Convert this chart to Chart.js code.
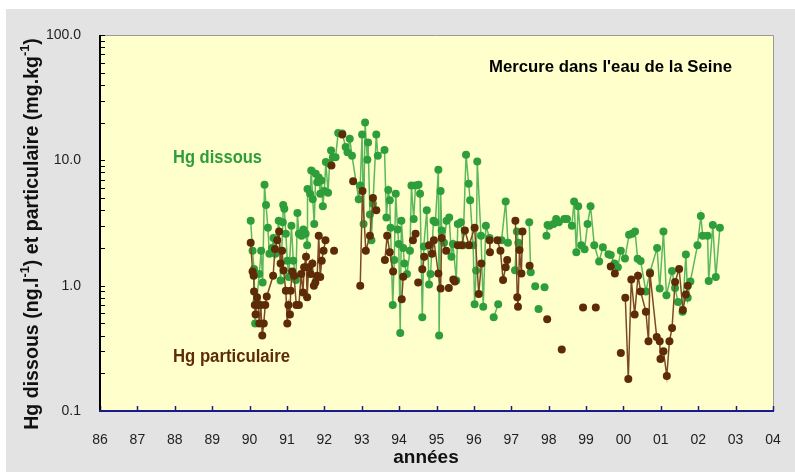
<!DOCTYPE html>
<html>
<head>
<meta charset="utf-8">
<script src="https://cdn.jsdelivr.net/npm/chart.js@4.4.1/dist/chart.umd.min.js"></script>
<style>
  html, body { margin: 0; padding: 0; background: #fff; }
  canvas { display: block; }
</style>
</head>
<body>
<canvas id="hgChart" width="795" height="472"></canvas>
<script>
// Hg dissous (ng/l) – null = coupure de la courbe
const dissousYears = [
  1990.03, 1990.08, 1990.12, 1990.15, 1990.19, 1990.26, 1990.31, 1990.35, 1990.40, 1990.44,
  1990.49, 1990.53, 1990.60, 1990.64, 1990.69, 1990.78, 1990.83, 1990.89, 1990.90, 1990.93,
  1990.97, 1991.01, 1991.05, 1991.12, 1991.17, 1991.24, 1991.28, 1991.32, 1991.39, 1991.44,
  1991.50, 1991.54, 1991.55, 1991.62, 1991.65, 1991.69, 1991.73, 1991.77, 1991.81, 1991.85,
  1991.89, 1991.92, 1991.96, 1992.00, 1992.04, 1992.10, 1992.14, 1992.18, 1992.23, 1992.30,
  1992.37, 1992.48, 1992.57, 1992.62, 1992.68, 1992.74, 1992.92, 1992.96, 1993.01, 1993.05,
  1993.09, 1993.15, 1993.17, 1993.22, 1993.26, 1993.30, 1993.39, 1993.43, 1993.61, 1993.66,
  1993.71, 1993.75, 1993.77, 1993.83, 1993.87, 1993.91, 1993.96, 1993.99, 1994.03, 1994.06,
  1994.11, 1994.14, 1994.21, 1994.29, 1994.33, 1994.39, 1994.44, 1994.52, 1994.56, 1994.62,
  1994.66, 1994.74, 1994.80, 1994.84, 1994.92, 1994.97, 1995.05, 1995.07, 1995.11, 1995.14,
  1995.20, 1995.27, 1995.34, 1995.40, 1995.44, 1995.53, 1995.57, 1995.65, 1995.71, 1995.79,
  1995.86, 1995.90, 1995.98, 1996.02, 1996.06, 1996.09, 1996.19, 1996.25, 1996.32, 1996.42,
  null, 1996.53, 1996.65, null, 1996.74, 1996.85, 1996.91, null, 1997.10, 1997.15,
  1997.19, null, 1997.48, 1997.52, null, 1997.64, null, 1997.73, null, 1997.89,
  null, 1997.94, 1997.97, 1998.02, 1998.13, 1998.20, 1998.27, 1998.42, 1998.49, 1998.62,
  1998.68, 1998.74, 1998.79, 1998.87, 1998.96, 1999.04, 1999.12, 1999.22, 1999.35, 1999.45,
  1999.60, 1999.66, 1999.76, 1999.85, 1999.93, 2000.04, 2000.15, 2000.23, 2000.31, 2000.38,
  2000.46, 2000.60, 2000.71, 2000.90, 2000.97, 2001.07, 2001.15, 2001.30, 2001.38, 2001.46,
  2001.58, 2001.67, 2001.72, 2001.79, 2001.98, 2002.07, 2002.12, 2002.25, 2002.28, 2002.39,
  2002.47, 2002.58
];
const dissousValues = [
  3.3, 1.9, 1.36, 0.5, 0.76, 1.24, 1.9, 1.06, 6.4, 4.4,
  2.9, 1.8, 2.0, 2.4, 1.8, 3.3, 1.1, 3.2, 4.4, 4.1,
  2.6, 1.58, 1.17, 3.0, 1.58, 1.11, 3.8, 2.6, 2.5, 2.8,
  2.6, 2.1, 5.9, 5.4, 8.3, 4.9, 3.1, 7.8, 6.7, 7.3,
  5.4, 6.9, 4.3, 5.7, 9.7, 5.5, 9.4, 12, 10.6, 10.6,
  16.5, 16.4, 12.8, 11.6, 14.9, 10.9, 4.9, 6.3, 16.1, 3.1,
  20, 10.1, 13.9, 3.7, 2.3, 4.5, 16.1, 10.9, 12.1, 3.5,
  5.8, 4.8, 2.9, 0.7, 1.6, 5.4, 2.8, 2.15, 0.42, 3.3,
  2.0, 1.5, 1.24, 1.9, 6.3, 3.4, 6.3, 6.4, 5.4, 0.56,
  2.05, 4.0, 1.02, 1.24, 3.3, 3.2, 8.4, 0.4, 5.7, 2.75,
  2.2, 3.3, 3.5, 1.7, 2.15, 1.1, 3.1, 3.2, 2.1, 11.1,
  6.5, 4.8, 2.1, 0.71, 1.32, 9.8, 2.5, 0.68, 3.0, 2.4,
  null, 0.56, 0.71, null, 2.3, 4.7, 2.2, null, 1.33, 2.7,
  2.2, null, 3.2, 1.28, null, 0.99, null, 0.65, null, 0.97,
  null, 2.5, 3.05, 3.0, 3.1, 3.4, 3.2, 3.4, 3.4, 3.0,
  4.7, 1.85, 4.3, 2.1, 1.95, 3.1, 4.3, 2.1, 1.56, 2.03,
  1.78, 1.76, 1.5, 1.4, 1.9, 1.65, 2.55, 2.6, 2.7, 1.64,
  1.57, 0.9, 1.28, 2.0, 0.95, 2.7, 0.84, 1.31, 0.96, 0.74,
  0.62, 1.77, 0.8, 1.08, 2.1, 3.6, 2.5, 2.5, 1.09, 3.05,
  1.17, 2.9
];

// Hg particulaire (mg/kg)
const partYears = [
  1990.03, 1990.08, 1990.11, 1990.12, 1990.14, 1990.16, 1990.20, 1990.23, 1990.26, 1990.30,
  1990.34, 1990.38, 1990.42, 1990.46, 1990.63, 1990.68, 1990.74, 1990.79, 1990.83, 1990.87,
  1990.91, 1990.97, 1991.01, 1991.04, 1991.08, 1991.10, 1991.14, 1991.19, 1991.25, 1991.32,
  1991.38, 1991.43, 1991.46, 1991.51, 1991.54, 1991.58, 1991.63, 1991.68, 1991.72, 1991.76,
  1991.81, 1991.85, 1991.89, 1991.93, 1991.98, 1992.03, null, 1992.19, null, 1992.26,
  null, 1992.48, null, 1992.77, null, 1992.96, 1993.02, 1993.11, 1993.22, 1993.30,
  1993.39, null, 1993.62, 1993.68, 1993.75, 1993.84, null, 1994.07, 1994.11, null,
  1994.37, 1994.44, null, 1994.51, null, 1994.62, 1994.67, null, 1994.80, 1994.88,
  1994.93, 1995.05, 1995.11, 1995.14, 1995.26, null, 1995.33, null, 1995.45, 1995.49,
  null, 1995.57, 1995.67, 1995.76, 1995.87, 1996.02, 1996.13, 1996.20, null, 1996.42,
  1996.43, null, 1996.63, 1996.71, 1996.78, 1996.85, 1996.89, null, 1997.11, 1997.16,
  1997.18, 1997.22, 1997.27, 1997.30, null, 1997.49, null, 1997.96, null, 1998.35,
  null, 1998.92, null, 1999.26, null, 1999.66, 1999.77, null, 1999.93, null,
  2000.05, 2000.13, 2000.21, 2000.30, 2000.39, 2000.46, 2000.60, 2000.67, 2000.71, 2000.89,
  2000.97, 2000.99, 2001.07, 2001.16, 2001.23, 2001.30, 2001.38, 2001.49, 2001.59, 2001.67,
  2001.72
];
const partValues = [
  2.2, 1.3, 1.2, 0.9, 0.7, 0.59, 0.81, 0.7, 0.5, 0.7,
  0.4, 0.5, 0.7, 0.82, 1.2, 1.96, 2.3, 2.7, 1.5, 1.9,
  1.32, 0.91, 0.5, 0.7, 0.59, 0.91, 1.3, 1.2, 0.7, 0.7,
  1.24, 0.88, 1.4, 1.7, 0.81, 1.4, 1.24, 1.5, 1.0, 1.06,
  1.2, 2.5, 1.17, 1.58, 1.9, 2.3, null, 9.1, null, 1.9,
  null, 16.1, null, 6.8, null, 1.0, 5.7, 1.9, 2.5, 5.0,
  4.0, null, 1.6, 2.5, 1.85, 1.3, null, 0.78, 1.18, null,
  2.3, 2.6, null, 1.06, null, 1.35, 1.7, null, 2.1, 1.8,
  2.3, 1.25, 0.95, 2.4, 1.9, null, 0.96, null, 1.12, 1.08,
  null, 2.1, 2.1, 2.75, 2.1, 2.9, 0.86, 1.5, null, 2.3,
  1.85, null, 2.3, 1.9, 1.11, 1.4, 1.6, null, 3.3, 0.81,
  0.68, 1.93, 1.25, 2.7, null, 1.44, null, 0.54, null, 0.31,
  null, 0.67, null, 0.67, null, 1.42, 1.25, null, 0.29, null,
  0.8, 0.18, 1.12, 0.59, 1.2, 0.9, 0.62, 0.36, 1.25, 0.39,
  0.36, 0.26, 0.30, 0.19, 0.36, 0.46, 1.07, 1.36, 0.64, 0.85,
  1.0
];

const yearTicks = [1986, 1987, 1988, 1989, 1990, 1991, 1992, 1993, 1994, 1995,
  1996, 1997, 1998, 1999, 2000, 2001, 2002, 2003, 2004];
const yMajorTicks = [0.1, 1, 10, 100];

const FONT = '"Liberation Sans", Arial, sans-serif';
const NARROW = '"Liberation Sans Narrow", "Arial Narrow", "Liberation Sans", Arial, sans-serif';

function toPoints(xs, ys) {
  return xs.map((x, i) => ({ x: x, y: ys[i] }));
}

// narrow labels: squeeze to the width they have in the original
function fitText(ctx, text, x, y, width, font, color) {
  ctx.save();
  ctx.font = font;
  const w = ctx.measureText(text).width;
  ctx.translate(x, y);
  ctx.scale(width / w, 1);
  ctx.fillStyle = color;
  ctx.textBaseline = 'middle';
  ctx.textAlign = 'left';
  ctx.fillText(text, 0, 0);
  ctx.restore();
}

const decor = {
  id: 'decor',
  beforeDraw(chart) {
    const { ctx, chartArea: a } = chart;
    ctx.save();
    ctx.fillStyle = '#ffffff';
    ctx.fillRect(0, 0, chart.width, chart.height);
    ctx.fillStyle = '#e3e3e3';
    ctx.fillRect(6, 9, chart.width - 6, chart.height - 9);
    ctx.fillStyle = '#ffffcc';
    ctx.fillRect(a.left, a.top, a.right - a.left, a.bottom - a.top);
    ctx.restore();
  },
  beforeDatasetsDraw(chart) {
    const { ctx, chartArea: a, scales } = chart;
    ctx.save();
    // top / right frame
    ctx.strokeStyle = '#9a9a9a';
    ctx.lineWidth = 1;
    ctx.beginPath();
    ctx.moveTo(a.left, a.top + 0.5);
    ctx.lineTo(a.right + 0.5, a.top + 0.5);
    ctx.lineTo(a.right + 0.5, a.bottom);
    ctx.stroke();

    // y axis ticks (log minor)
    ctx.strokeStyle = '#000';
    ctx.lineWidth = 1;
    for (let d = 0.1; d < 100; d *= 10) {
      for (let k = 1; k <= 10; k++) {
        const py = Math.round(scales.y.getPixelForValue(d * k)) + 0.5;
        ctx.beginPath();
        ctx.moveTo(a.left, py);
        ctx.lineTo(a.left + 5, py);
        ctx.stroke();
      }
    }
    // x axis ticks
    ctx.strokeStyle = '#1a1a8a';
    ctx.lineWidth = 1.5;
    yearTicks.forEach(t => {
      const px = Math.round(scales.x.getPixelForValue(t)) + 0.5;
      ctx.beginPath();
      ctx.moveTo(px, a.bottom);
      ctx.lineTo(px, a.bottom - 5);
      ctx.stroke();
    });
    // left axis
    ctx.strokeStyle = '#000';
    ctx.lineWidth = 2;
    ctx.beginPath();
    ctx.moveTo(a.left, a.top);
    ctx.lineTo(a.left, a.bottom);
    ctx.stroke();
    // bottom axis
    ctx.strokeStyle = '#1a1a8a';
    ctx.lineWidth = 2;
    ctx.beginPath();
    ctx.moveTo(a.left - 1, a.bottom);
    ctx.lineTo(a.right + 1, a.bottom);
    ctx.stroke();
    ctx.restore();
  },
  afterDraw(chart) {
    const { ctx } = chart;
    fitText(ctx, 'Mercure dans l\'eau de la Seine', 489, 68, 243, 'bold 16px ' + NARROW, '#000');
    fitText(ctx, 'Hg dissous', 173, 158, 89, 'bold 18px ' + NARROW, '#2e9e3a');
    fitText(ctx, 'Hg particulaire', 173, 357, 117, 'bold 18px ' + NARROW, '#5e2b08');

    // x title
    ctx.save();
    ctx.font = 'bold 19px ' + FONT;
    ctx.fillStyle = '#111';
    ctx.textAlign = 'center';
    ctx.textBaseline = 'middle';
    ctx.fillText('années', 426, 458);
    ctx.restore();

    // y title with superscripts
    const parts = [
      ['Hg dissous (ng.l', false], ['-1', true], [') et particulaire (mg.kg', false], ['-1', true], [')', false]
    ];
    const target = 392;
    ctx.save();
    let base = 17;
    const measure = size => parts.reduce((s, p) => {
      ctx.font = 'bold ' + (p[1] ? size * 0.65 : size) + 'px ' + FONT;
      return s + ctx.measureText(p[0]).width;
    }, 0);
    base = base * target / measure(base);
    const total = measure(base);
    ctx.translate(33, 234);
    ctx.rotate(-Math.PI / 2);
    ctx.fillStyle = '#111';
    ctx.textBaseline = 'middle';
    ctx.textAlign = 'left';
    let xPos = -total / 2;
    parts.forEach(p => {
      ctx.font = 'bold ' + (p[1] ? base * 0.65 : base) + 'px ' + FONT;
      ctx.fillText(p[0], xPos, p[1] ? -base * 0.38 : 0);
      xPos += ctx.measureText(p[0]).width;
    });
    ctx.restore();
  }
};

new Chart(document.getElementById('hgChart'), {
  type: 'line',
  data: {
    datasets: [{
      label: 'Hg particulaire',
      data: toPoints(partYears, partValues),
      borderColor: '#7b4a22',
      borderWidth: 1.5,
      pointBackgroundColor: '#5e2b08',
      pointBorderColor: '#5e2b08',
      pointRadius: 4,
      pointBorderWidth: 0,
      spanGaps: false,
      tension: 0
    }, {
      label: 'Hg dissous',
      data: toPoints(dissousYears, dissousValues),
      borderColor: '#5cb85c',
      borderWidth: 1.5,
      pointBackgroundColor: '#2e9e3a',
      pointBorderColor: '#2e9e3a',
      pointRadius: 4,
      pointBorderWidth: 0,
      spanGaps: false,
      tension: 0
    }]
  },
  options: {
    responsive: false,
    animation: false,
    events: [],
    layout: {
      padding: { top: 35, right: 22, left: 0, bottom: 0 }
    },
    plugins: {
      legend: { display: false },
      tooltip: { enabled: false }
    },
    scales: {
      x: {
        type: 'linear',
        min: 1986,
        max: 2004,
        grid: { display: false },
        border: { display: false },
        afterFit: scale => { scale.height = 61; },
        afterBuildTicks: scale => { scale.ticks = yearTicks.map(v => ({ value: v })); },
        ticks: {
          autoSkip: false,
          maxRotation: 0,
          padding: 13,
          color: '#222',
          font: { family: FONT, size: 14 },
          callback: v => String(v).slice(2)
        }
      },
      y: {
        type: 'logarithmic',
        min: 0.1,
        max: 100,
        grid: { display: false },
        border: { display: false },
        afterFit: scale => { scale.width = 100; },
        afterBuildTicks: scale => { scale.ticks = yMajorTicks.map(v => ({ value: v, major: true })); },
        ticks: {
          autoSkip: false,
          padding: 11,
          color: '#222',
          font: { family: FONT, size: 14 },
          callback: v => v.toFixed(1)
        }
      }
    }
  },
  plugins: [decor]
});
</script>
</body>
</html>
